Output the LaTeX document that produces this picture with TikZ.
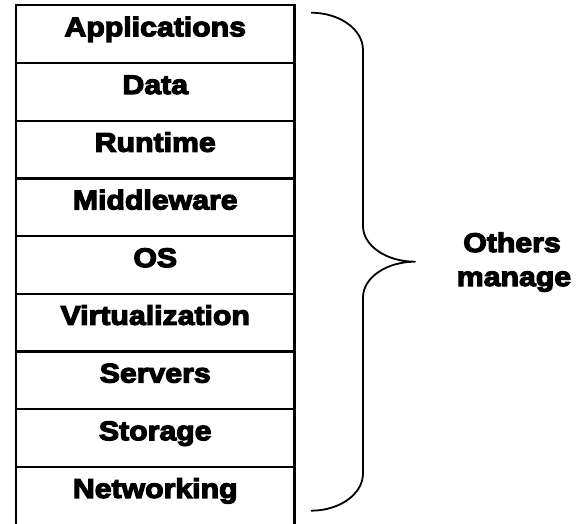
\documentclass[tikz,border=0pt]{standalone}
\usepackage{fontspec}
% Heavy sans face for all labels
\newfontfamily\heavyfont{Liberation Sans}[UprightFont={* Bold},FakeBold=4.5,FakeStretch=1.12]
\usetikzlibrary{calc}
\begin{document}
\begin{tikzpicture}[x=1pt,y=-1pt,
  layer/.style={draw, line width=2.2pt, minimum width=278.5pt, minimum height=57.7pt,
                inner sep=0pt, outer sep=0pt},
  lbl/.style={font=\heavyfont\fontsize{27}{30}\selectfont, inner sep=0pt, anchor=base},
  bracepath/.style={line width=1.8pt, line join=round, line cap=butt}]
\useasboundingbox (0,0) rectangle (587,523);

% Stack of layers
\foreach \t [count=\i] in {Applications,Data,Runtime,Middleware,OS,Virtualization,Servers,Storage}{
  \node[layer] (row\i) at (155.25,{5.3+57.7*(\i-0.5)}) {};
  \node[lbl] (txt\i) at ($(row\i.north)+(0,31)$) {\t};
}
% Bottom layer, open at the lower edge
\node[layer, draw=none] (row9) at (155.25,{5.3+57.7*8.5}) {};
\node[lbl] (txt9) at ($(row9.north)+(0,31)$) {Networking};
\draw[line width=2.2pt] (row9.north west) -- (row9.south west)
                        (row9.north east) -- (row9.south east);

% Curly brace
\coordinate (btop) at (311,12.7);
\coordinate (btip) at (415,261.7);
\coordinate (bbot) at (311,510.7);
\draw[bracepath] (btop) .. controls (339.7,12.7) and (363,29.4) .. (363,50)
  -- (363,226) .. controls (363,245.7) and (386.3,261.7) .. (btip)
  .. controls (386.3,261.7) and (363,277.7) .. (363,297.4)
  -- (363,473.4) .. controls (363,494) and (339.7,510.7) .. (bbot);

% Side caption
\node[lbl] (cap1) at (512,252) {Others};
\node[lbl] (cap2) at (514,286) {manage};
\end{tikzpicture}
\end{document}
